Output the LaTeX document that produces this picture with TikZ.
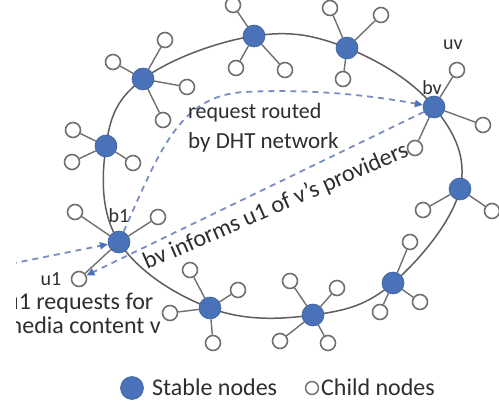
\documentclass[tikz,border=0pt]{standalone}
\usepackage{fontspec}
\setmainfont{Carlito}
\usetikzlibrary{arrows.meta}
\pgfdeclarelayer{bg}
\pgfsetlayers{bg,main}
\definecolor{stableblue}{HTML}{4A72B8}
\definecolor{ringgray}{HTML}{5E5E5E}
\definecolor{childgray}{HTML}{707070}
\definecolor{dashblue}{HTML}{7A8CC2}
\definecolor{txt}{HTML}{2E2E2E}
\tikzset{
  stable/.style={circle, fill=stableblue, draw=stableblue!85!black, line width=0.6pt, minimum size=22pt, inner sep=0pt},
  child/.style={circle, fill=white, draw=childgray, line width=1.6pt, minimum size=15pt, inner sep=0pt},
  link/.style={draw=childgray, line width=1.4pt},
  ring/.style={draw=ringgray, line width=1.5pt},
  req/.style={draw=dashblue, line width=1.8pt, dash pattern=on 6pt off 5pt,
     -{Triangle[length=8pt,width=7pt,color=stableblue]}},
  lbl/.style={text=txt, font=\fontsize{20}{22}\selectfont, inner sep=0pt},
  big/.style={text=txt, font=\fontsize{24}{28}\selectfont, inner sep=0pt},
}
\begin{document}
\begin{tikzpicture}[x=1pt,y=-1pt]
\useasboundingbox (0,0) rectangle (499,403);
\begin{scope}
\clip (16,0) rectangle (499,403);
% stable nodes
\node[stable] (s2) at (106,146) {};
\node[stable] (s1) at (143,79) {};
\node[stable] (st) at (254,36) {};
\node[stable] (s3) at (347,48) {};
\node[stable] (bv) at (434,107) {};
\node[stable] (s6) at (460,189) {};
\node[stable] (s7) at (393,283) {};
\node[stable] (s8) at (313,315) {};
\node[stable] (s9) at (210,308) {};
\node[stable] (b1) at (119,242) {};
% background and ring
\begin{pgfonlayer}{bg}
\fill[white] (0,0) rectangle (499,403);
\draw[ring] plot[smooth cycle, tension=0.65] coordinates {(s2.center) (s1.center) (st.center) (s3.center) (bv.center) (s6.center) (s7.center) (s8.center) (s9.center) (b1.center)};
\end{pgfonlayer}
% child nodes
\foreach \s/\n/\x/\y in {s1/1a/113/62, s1/1b/165/40, s1/1c/187/87, s1/1d/163/120,
  s2/2a/73/130, s2/2b/72/162, s2/2c/133/163,
  st/ta/233/5, st/tb/236/68, st/tc/285/70,
  s3/3a/330/8, s3/3b/381/15, s3/3c/343/79,
  bv/va/483/125, bv/vb/415/148,
  s6/6a/423/210, s6/6b/492/211,
  s7/7a/410/242, s7/7b/420/302, s7/7c/380/312,
  s8/8a/290/281, s8/8b/337/288, s8/8c/280/341, s8/8d/328/343,
  s9/9a/190/270, s9/9b/238/290, s9/9c/170/313, s9/9d/213/343,
  b1/ba/75/212, b1/bb/158/217}
{
  \node[child] (c\n) at (\x,\y) {};
  \draw[link] (\s) -- (c\n);
}
\node[child] (uvn) at (457,70) {};
\draw[link] (bv) -- (uvn);
\node[child] (u1) at (79,279) {};
\draw[link] (b1) -- (u1);
% labels
\node[lbl] (uvl) at (453,45) {uv};
\node[lbl] (bvl) at (432,88) {bv};
\node[lbl] (b1l) at (119,216) {b1};
\node[lbl] (u1l) at (51,279) {u1};
% dashed request arrows
\coordinate (lin) at (0,266);
\draw[req] (lin) -- (b1);
\draw[req] (b1) .. controls (160,150) and (180,95) .. (245,92) .. controls (320,88) and (385,98) .. (bv);
\draw[req] (bv) -- (u1);
% texts
\node[big, anchor=base west, font=\fontsize{22}{26}\selectfont] (rq1) at (188,119) {request routed};
\node[big, anchor=base west, font=\fontsize{23}{26}\selectfont] (rq2) at (188,149) {by DHT network};
\node[big, anchor=base west, rotate=23.5] (inf) at (147,270) {bv informs u1 of v's providers};
\node[big, anchor=base west] (ur1) at (6,310) {u1 requests for};
\node[big, anchor=base west] (ur2) at (3,334) {media content v};
% legend
\node[stable, minimum size=23pt] (legs) at (132,388) {};
\node[big, anchor=base west] (legst) at (152,396) {Stable nodes};
\node[child, minimum size=13pt, line width=1.4pt] (legc) at (312,388) {};
\node[big, anchor=base west] (legct) at (321,396) {Child nodes};
\end{scope}
\end{tikzpicture}
\end{document}
